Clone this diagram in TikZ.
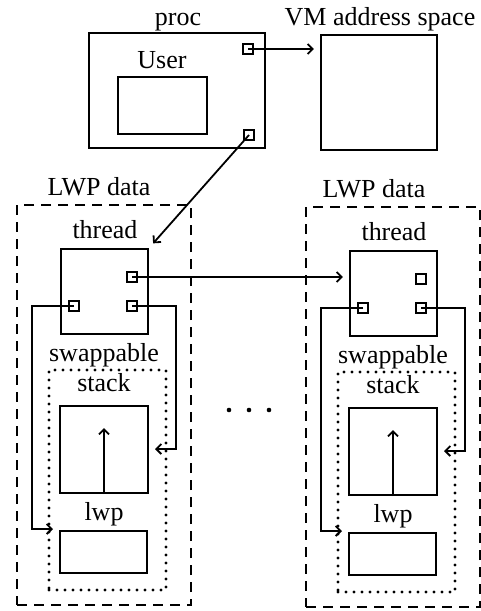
\documentclass[tikz,border=0pt]{standalone}
\usepackage{fontspec}
\setmainfont{Liberation Serif}
\usetikzlibrary{arrows.meta}
\begin{document}
\begin{tikzpicture}[x=1pt,y=-1pt,
    lbl/.style={anchor=base,inner sep=0pt,font=\fontsize{26}{30}\selectfont},
    box/.style={draw,line width=2.3pt,inner sep=0pt},
    port/.style={draw,line width=2pt,minimum size=10pt,inner sep=0pt},
    link/.style={line width=1.8pt,-{Straight Barb[length=5pt,width=10pt]}},
    lwpframe/.style={draw,line width=2.4pt,dash pattern=on 10pt off 7pt,inner sep=0pt},
    swapframe/.style={draw,line width=3.2pt,line cap=round,dash pattern=on 0pt off 8pt,inner sep=0pt}]
    \useasboundingbox (0,0) rectangle (481,611);
    % proc
    \node[lbl] (proclbl) at (178,25) {proc};
    \node[box,minimum width=176pt,minimum height=115pt] (proc) at (177,90.5) {};
    \node[lbl] (userlbl) at (162,68) {User};
    \node[box,minimum width=89pt,minimum height=57pt] (user) at (162.5,105.5) {};
    \node[port] (vmptr) at (248,49) {};
    \node[port] (lwpptr) at (249,135) {};
    % address space
    \node[lbl] (vmlbl) at (380,25) {VM address space};
    \node[box,minimum width=116pt,minimum height=115pt] (vm) at (379,92.5) {};
    % LWP data
    \node[lbl] (lwplbl0) at (99,195) {LWP data};
    \node[lbl] (lwplbl1) at (374,197) {LWP data};
    \foreach \i/\dx/\dy in {0/0/0,1/289/2}{
    \begin{scope}[shift={(\dx,\dy)}]
    \node[lwpframe,minimum width=174pt,minimum height=400pt] (lwpdata\i) at (104,405) {};
    \node[lbl] (threadlbl\i) at (105,238) {thread};
    \node[box,minimum width=87pt,minimum height=85pt] (thread\i) at (104.5,291.5) {};
    \node[port] (next\i) at (132,277) {};
    \node[port] (stkptr\i) at (132,306) {};
    \node[port] (lwpp\i) at (74,306) {};
    \node[lbl] (swaplbl\i) at (104,361) {swappable};
    \node[swapframe,minimum width=117pt,minimum height=220pt] (swap\i) at (107.5,480) {};
    \node[lbl] (stacklbl\i) at (104,391) {stack};
    \node[box,minimum width=88pt,minimum height=87pt] (stack\i) at (104,449.5) {};
    \coordinate (stacktop\i) at (104,428);
    \node[lbl] (lwpnamelbl\i) at (104,520) {lwp};
    \node[box,minimum width=87pt,minimum height=42pt] (lwp\i) at (103.5,552) {};
    \coordinate (lwpin\i) at (53,529);
    \coordinate (stackin\i) at (155,449);
    \end{scope}
    \draw[link] (stack\i.south) -- (stacktop\i);
    \draw[link] (lwpp\i.center) -- ++(-42,0) |- (lwpin\i);
    \draw[link] (stkptr\i.center) -- ++(44,0) |- (stackin\i);
    }
    % pointers
    \draw[link,shorten >=6pt] (vmptr.center) -- (vm.west |- vmptr);
    \draw[link,shorten >=6pt] (lwpptr.center) -- (thread0.north east);
    \draw[link,shorten >=6pt] (next0.center) -- (thread1.west |- next0);
    \foreach \x in {229,249,269}{\fill (\x,410) circle (2.3pt);}
\end{tikzpicture}
\end{document}
